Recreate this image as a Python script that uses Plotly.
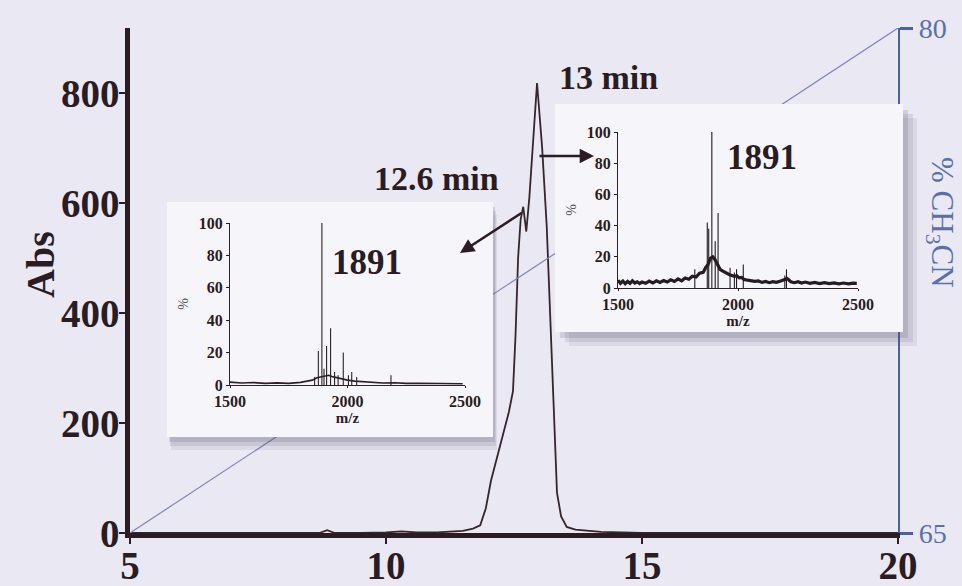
import plotly.graph_objects as go

W, H = 962, 586

# ---------------- data ----------------
# HPLC chromatogram (time in min, absorbance)
time_min = [5, 6, 7, 8, 8.7, 8.85, 9.0, 9.5, 10, 10.3, 10.6, 11, 11.3, 11.5, 11.7, 11.84,
            11.95, 12.05, 12.19, 12.3, 12.4, 12.48, 12.53, 12.58, 12.63, 12.68, 12.74,
            12.8, 12.87, 12.95, 13.05, 13.14, 13.24, 13.34, 13.42, 13.53, 13.7, 13.9,
            14.2, 14.6, 15, 17, 20]
absorbance = [0, 0, 0, 0, 0, 5, 0, 0, 1, 3, 1, 1, 2, 4, 8, 14,
              45, 95, 145, 185, 220, 258, 360, 500, 570, 593, 548,
              610, 700, 818, 700, 556, 315, 73, 30, 11, 6, 4,
              2, 1, 0, 0, 0]

# acetonitrile gradient (% CH3CN)
gradient_time = [5, 20]
gradient_pct = [65, 80]

# mass spectrum of the 12.6 min fraction
ms1_base_mz = [1500, 1550, 1600, 1650, 1700, 1750, 1800, 1830, 1850, 1870, 1885, 1900, 1920,
               1940, 1960, 1980, 2000, 2030, 2060, 2100, 2150, 2200, 2250, 2300, 2400, 2490]
ms1_base_int = [1.8, 1.2, 1.5, 1.0, 1.3, 1.0, 1.6, 2.2, 3.0, 4.5, 5.0, 5.5, 6.0,
                5.0, 4.2, 3.5, 3.0, 2.4, 2.0, 1.6, 1.2, 1.4, 1.0, 1.1, 0.8, 0.8]
ms1_peak_mz = [1860, 1876, 1891, 1900, 1911, 1928, 1945, 1960, 1982, 2004, 2018, 2039, 2185]
ms1_peak_int = [5, 21, 100, 10, 24, 35, 8, 6, 20, 6, 8, 5, 6]

# mass spectrum of the 13 min fraction
ms2_base_mz = [1500, 1510, 1520, 1530, 1540, 1550, 1560, 1570, 1580, 1590, 1600, 1615, 1630,
               1645, 1660, 1675, 1690, 1705, 1720, 1735, 1750, 1765, 1780, 1795, 1810,
               1825, 1840, 1855, 1865, 1875, 1885, 1895, 1905, 1915, 1925, 1935, 1945,
               1955, 1965, 1975, 1985, 1995, 2005, 2015, 2025, 2040, 2055, 2070, 2085,
               2100, 2115, 2130, 2145, 2160, 2175, 2190, 2205, 2220, 2235, 2250, 2265,
               2280, 2300, 2320, 2340, 2360, 2380, 2400, 2420, 2440, 2460, 2480, 2495]
ms2_base_int = [5, 3, 4.5, 2.8, 4.2, 3, 4.6, 3.2, 4, 2.9, 3.8, 3, 4.4,
                3.2, 4.6, 3.6, 4.8, 3.8, 5.2, 4.2, 5.8, 4.6, 6.4, 5.6, 7.5,
                7, 9.5, 10, 13, 15, 19, 20, 18, 15, 12, 11, 10,
                9, 8.5, 8, 7.5, 7.8, 6.5, 6.8, 5.5, 5, 4.6, 4.2, 4.5,
                3.6, 4.2, 3.4, 4, 3.6, 4.4, 5.2, 6, 4, 3.4, 4, 3.2,
                3.8, 3, 3.6, 2.8, 3.4, 2.8, 3.3, 2.7, 3.2, 2.6, 3.1, 3]
ms2_peak_mz = [1820, 1872, 1878, 1891, 1905, 1917, 1967, 1985, 1994, 2022, 2195, 2202]
ms2_peak_int = [12, 42, 38, 100, 30, 48, 13, 10, 12, 15, 8, 12]

# tick labels
main_xticks = [5, 10, 15, 20]
main_yticks = [0, 200, 400, 600, 800]
pct_ticks = [65, 80]
ms_xticks = [1500, 2000, 2500]
ms_yticks = [0, 20, 40, 60, 80, 100]

# ---------------- styling helpers ----------------
SERIF = "Liberation Serif"
DARK = "#2a1c22"
BLUE = "#4d5fa6"
BLUE_TXT = "#5a70aa"
BG = "#eae8f3"
BOX = "#f6f6fa"
CLEAR = "rgba(0,0,0,0)"


def px(x):
    return x / W


def py(y):
    return 1 - y / H


def sticks(mz, inten):
    xs, ys = [], []
    for m, i in zip(mz, inten):
        xs += [m, m, None]
        ys += [0, i, None]
    return xs, ys


def rect(x0, x1, y0, y1):
    return [x0, x1, x1, x0, x0], [y0, y0, y1, y1, y0]


fig = go.Figure()

# main traces
fig.add_trace(go.Scatter(x=gradient_time, y=gradient_pct, xaxis="x", yaxis="y2",
                         mode="lines", line=dict(color="#7f84b2", width=1.2),
                         hoverinfo="skip"))
fig.add_trace(go.Scatter(x=time_min, y=absorbance, xaxis="x", yaxis="y",
                         mode="lines", line=dict(color="#35262d", width=1.8)))

# inset boxes (background subplots in pixel units)
boxes = [
    # (axis x, axis y, box x0, x1, y0, y1, shadow offsets)
    ("x2", "y3", 167, 493, 202, 437, [(4, 13, 0.10), (3, 9, 0.14), (2, 5, 0.18)]),
    ("x3", "y4", 555, 903, 104, 332, [(14, 14, 0.10), (10, 10, 0.14), (5, 6, 0.18)]),
]
for xa, ya, x0, x1, y0, y1, shadows in boxes:
    for dx, dy, op in shadows:
        xs, ys = rect(x0 + dx, x1 + dx, y0 + dy, y1 + dy)
        fig.add_trace(go.Scatter(x=xs, y=ys, xaxis=xa, yaxis=ya, mode="lines",
                                 fill="toself", fillcolor=f"rgba(90,85,115,{op})",
                                 line=dict(width=0), hoverinfo="skip"))
    xs, ys = rect(x0, x1, y0, y1)
    fig.add_trace(go.Scatter(x=xs, y=ys, xaxis=xa, yaxis=ya, mode="lines",
                             fill="toself", fillcolor=BOX,
                             line=dict(width=0), hoverinfo="skip"))

# inset spectra
fig.add_trace(go.Scatter(x=ms1_base_mz, y=ms1_base_int, xaxis="x4", yaxis="y5",
                         mode="lines", line=dict(color="#2a2226", width=1.6)))
sx, sy = sticks(ms1_peak_mz, ms1_peak_int)
fig.add_trace(go.Scatter(x=sx, y=sy, xaxis="x4", yaxis="y5",
                         mode="lines", line=dict(color="#2a2226", width=1.1)))
fig.add_trace(go.Scatter(x=ms2_base_mz, y=ms2_base_int, xaxis="x5", yaxis="y6",
                         mode="lines", line=dict(color="#241c20", width=3.2)))
sx, sy = sticks(ms2_peak_mz, ms2_peak_int)
fig.add_trace(go.Scatter(x=sx, y=sy, xaxis="x5", yaxis="y6",
                         mode="lines", line=dict(color="#241c20", width=1.1)))

# ---------------- layout ----------------
big_font = dict(family=SERIF, size=39, color=DARK, weight=700)
small_font = dict(family=SERIF, size=16, color=DARK, weight=700)

main_dom_x = [px(130), px(898)]
main_dom_y = [py(533), py(28)]

layout = dict(
    template="none",
    width=W, height=H,
    margin=dict(l=0, r=0, t=0, b=0, pad=0, autoexpand=False),
    paper_bgcolor=BG, plot_bgcolor=CLEAR,
    showlegend=False,
    xaxis=dict(domain=main_dom_x, range=[5, 20], anchor="y", automargin=False,
               tickvals=main_xticks, ticks="outside", ticklen=6, tickwidth=2,
               tickcolor=DARK, showline=True, linecolor=DARK, linewidth=4.5,
               showgrid=False, zeroline=False, tickfont=big_font,
               ticklabelstandoff=-12),
    yaxis=dict(domain=main_dom_y, range=[0, 918], anchor="x", automargin=False,
               tickvals=main_yticks, ticks="outside", ticklen=6, tickwidth=2,
               tickcolor=DARK, showline=True, linecolor=DARK, linewidth=4.5,
               showgrid=False, zeroline=False, tickfont=big_font,
               ticklabelstandoff=-8),
    yaxis2=dict(overlaying="y", side="right", anchor="x", range=[65, 80],
                automargin=False,
                tickvals=pct_ticks, ticks="outside", ticklen=13, tickwidth=3,
                tickcolor=BLUE, showline=True, linecolor=BLUE, linewidth=2.2,
                showgrid=False, zeroline=False,
                tickfont=dict(family=SERIF, size=28, color=BLUE_TXT)),
)

# background-box axes (pixel units)
bg_axes = [("xaxis2", "yaxis3", "x2", "y3", 160, 520, 196, 456),
           ("xaxis3", "yaxis4", "x3", "y4", 548, 924, 98, 352)]
for xk, yk, xid, yid, x0, x1, y0, y1 in bg_axes:
    layout[xk] = dict(domain=[px(x0), px(x1)], range=[x0, x1], anchor=yid,
                      visible=False, fixedrange=True, automargin=False)
    layout[yk] = dict(domain=[py(y1), py(y0)], range=[y1, y0], anchor=xid,
                      visible=False, fixedrange=True, automargin=False)

# spectrum axes
spec_axes = [("xaxis4", "yaxis5", "x4", "y5", 230, 465, 385, 223),
             ("xaxis5", "yaxis6", "x5", "y6", 618, 858, 288, 132)]
for xk, yk, xid, yid, x0, x1, yb, yt in spec_axes:
    layout[xk] = dict(domain=[px(x0), px(x1)], range=[1500, 2500], anchor=yid,
                      automargin=False,
                      tickvals=ms_xticks, ticks="outside", ticklen=2, tickwidth=1,
                      tickcolor=DARK, showline=True, linecolor="#2a2226", linewidth=1.3,
                      showgrid=False, zeroline=False, tickfont=small_font,
                      title=dict(text="m/z", font=dict(family=SERIF, size=15, color=DARK,
                                                       weight=700), standoff=0))
    layout[yk] = dict(domain=[py(yb), py(yt)], range=[0, 100], anchor=xid,
                      automargin=False,
                      tickvals=ms_yticks, ticks="outside", ticklen=3, tickwidth=1,
                      tickcolor=DARK, showline=True, linecolor="#2a2226", linewidth=1.3,
                      showgrid=False, zeroline=False, tickfont=small_font,
                      title=dict(text="%", font=dict(family=SERIF, size=14, color="#555"),
                                 standoff=6))

fig.update_layout(**layout)

# ---------------- annotations ----------------
ann = []


def label(xp, yp, text, size, color=DARK, weight=700, angle=0):
    return dict(x=px(xp), y=py(yp), xref="paper", yref="paper", text=text,
                xanchor="center", yanchor="middle", textangle=angle, showarrow=False,
                font=dict(family=SERIF, size=size, color=color, weight=weight))


ann.append(label(40, 265, "Abs", 40, angle=-90))
ann.append(label(940, 222, "% CH<sub>3</sub>CN", 31, color=BLUE_TXT, weight=400, angle=90))
ann.append(label(608, 77, "13 min", 34))
ann.append(label(436, 178, "12.6 min", 34))
ann.append(label(367, 262, "1891", 35))
ann.append(label(762, 157, "1891", 35))
# arrows
ann.append(dict(x=px(460), y=py(253), xref="paper", yref="paper", text="",
                showarrow=True, ax=63, ay=-41, arrowhead=2, arrowsize=1.1,
                arrowwidth=2.6, arrowcolor=DARK))
ann.append(dict(x=px(594), y=py(156), xref="paper", yref="paper", text="",
                showarrow=True, ax=-56, ay=0, arrowhead=2, arrowsize=1.1,
                arrowwidth=2.6, arrowcolor=DARK))
fig.update_layout(annotations=ann)

fig.write_html("out.html")
